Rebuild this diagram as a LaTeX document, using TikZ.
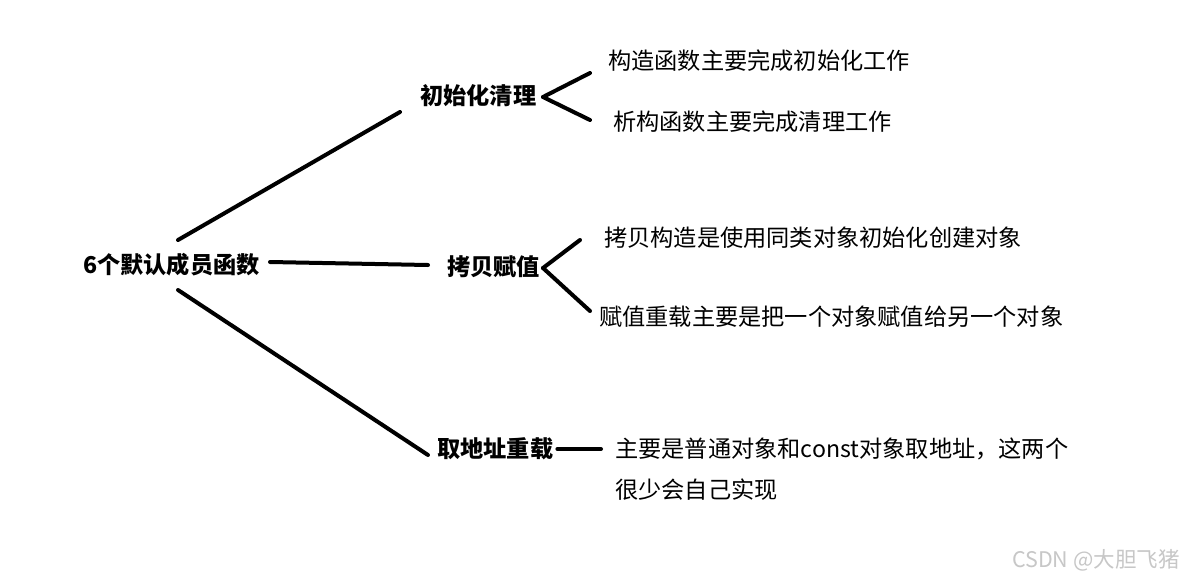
\documentclass[tikz,border=0pt]{standalone}
\usepackage{fontspec}
\setmainfont{Noto Sans CJK SC}
\newfontfamily\cjk{Noto Sans CJK SC}
\begin{document}
\begin{tikzpicture}[x=1pt,y=-1pt,
  lbl/.style={inner sep=0pt,anchor=west,font=\cjk\fontsize{23.2}{27}\selectfont},
  hub/.style={inner sep=0pt,anchor=west,font=\cjk\bfseries\fontsize{23.2}{27}\selectfont},
  br/.style={line width=4pt,line cap=round,black}]
\useasboundingbox (0,0) rectangle (1191,582);
\fill[white] (0,0) rectangle (1191,582);
\node[hub] (root) at (83,265) {6个默认成员函数};
\node[hub] (init) at (420,96) {初始化清理};
\node[hub] (copy) at (447,267) {拷贝赋值};
\node[hub] (addr) at (437,449) {取地址重载};
\node[lbl] (l1) at (608,61) {构造函数主要完成初始化工作};
\node[lbl] (l2) at (613,122) {析构函数主要完成清理工作};
\node[lbl] (l3) at (604,238) {拷贝构造是使用同类对象初始化创建对象};
\node[lbl] (l4) at (599,317) {赋值重载主要是把一个对象赋值给另一个对象};
\node[lbl,align=left,font=\cjk\fontsize{23.2}{41}\selectfont,anchor=north west] (l5) at (615,438) {主要是普通对象和const对象取地址，这两个\\很少会自己实现};
\node[inner sep=0pt,anchor=west,text=black!22,font=\cjk\fontsize{21.5}{24}\selectfont] (wm) at (1012,560) {CSDN @大胆飞猪};
\coordinate (r1) at (178,240);
\coordinate (r2) at (270,262);
\coordinate (r3) at (178,290);
\coordinate (e1) at (400,112);
\coordinate (e2) at (428,265);
\coordinate (e3) at (428,455);
\draw[br] (r1) -- (e1);
\draw[br] (r2) -- (e2);
\draw[br] (r3) -- (e3);
\coordinate (i0) at (543,97);
\draw[br] (i0) -- (590,73);
\draw[br] (i0) -- (590,120);
\coordinate (c0) at (543,268);
\draw[br] (c0) -- (580,240);
\draw[br] (c0) -- (590,311);
\draw[br] ([xshift=4pt]addr.east) -- (601,449);
\end{tikzpicture}
\end{document}
